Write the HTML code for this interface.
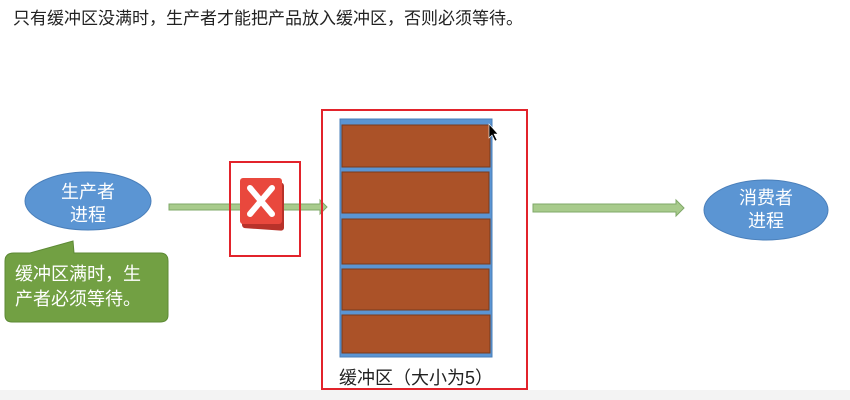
<!DOCTYPE html>
<html><head><meta charset="utf-8"><style>
body{margin:0;width:850px;height:400px;background:#fff;position:relative;overflow:hidden;font-family:"Liberation Sans","Noto Sans CJK SC",sans-serif}
.a{position:absolute}
</style></head><body>
<div class="a" style="left:0;top:390px;width:850px;height:10px;background:#f3f3f3"></div>
<div class="a" style="left:13px;top:4px;font-size:17px;color:#222;white-space:nowrap">只有缓冲区没满时，生产者才能把产品放入缓冲区，否则必须等待。</div>
<svg class="a" style="left:0;top:0" width="850" height="400">
<ellipse cx="88" cy="201" rx="63" ry="29" fill="#5b95d3" stroke="#4a7fba"/>
<path d="M14 253 H30 L73 241 L74 253 H160 Q168 253 168 261 V315 Q168 322 160 322 H12 Q5 322 5 315 V261 Q5 253 14 253Z" fill="#72a043" stroke="#5d8a35"/>
<path d="M169 204 H320 V200 L327 207 L320 214 V210 H169Z" fill="#a8cb8c" stroke="#7fa868"/>
<path d="M533 204 H676 V200 L684 208 L676 216 V212 H533Z" fill="#a8cb8c" stroke="#7fa868"/>
<ellipse cx="766" cy="210" rx="62" ry="30" fill="#5b95d3" stroke="#4a7fba"/>
<rect x="230" y="162" width="70" height="94" fill="none" stroke="#e2232b" stroke-width="2"/>
<rect x="242" y="180" width="42" height="48" rx="3" fill="#b8322a" transform="skewY(4) translate(0,-17)"/>
<rect x="240" y="178" width="42" height="46" rx="3" fill="#e9483d"/>
<path d="M250 188 L272 214 M272 188 L250 214" stroke="#fff" stroke-width="6" stroke-linecap="round"/>
<rect x="340" y="119" width="152" height="238" fill="#5b95d3" stroke="#4a7fba"/>
<rect x="342" y="125" width="148" height="42" fill="#ab5228" stroke="#7a3b1d"/>
<rect x="342" y="172" width="147" height="41" fill="#ab5228" stroke="#7a3b1d"/>
<rect x="342" y="219" width="148" height="45" fill="#ab5228" stroke="#7a3b1d"/>
<rect x="342" y="269" width="147" height="41" fill="#ab5228" stroke="#7a3b1d"/>
<rect x="342" y="315" width="148" height="38" fill="#ab5228" stroke="#7a3b1d"/>
<rect x="322" y="110" width="205" height="279" fill="none" stroke="#e2232b" stroke-width="2"/>
<path d="M489 124 V138 L492 135 L495 141 L497 140 L494 134 L498 134Z" fill="#000" stroke="#fff" stroke-width=".6"/>
</svg>
<div class="a" style="left:38px;top:181px;width:100px;text-align:center;color:#fff;font-size:18px;line-height:23px">生产者<br>进程</div>
<div class="a" style="left:716px;top:187px;width:100px;text-align:center;color:#fff;font-size:18px;line-height:23px">消费者<br>进程</div>
<div class="a" style="left:15px;top:262px;color:#fff;font-size:18px;line-height:25px">缓冲区满时，生<br>产者必须等待。</div>
<div class="a" style="left:339px;top:364px;color:#222;font-size:18px;white-space:nowrap">缓冲区（大小为5）</div>
</body></html>
